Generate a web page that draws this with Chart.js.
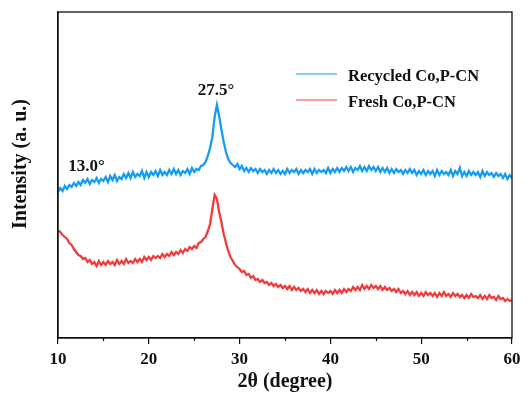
<!DOCTYPE html>
<html>
<head>
<meta charset="utf-8">
<script src="https://cdn.jsdelivr.net/npm/chart.js@4"></script>
<style>
  html, body { margin: 0; padding: 0; background: #fff; }
  #wrap { width: 531px; height: 394px; }
</style>
</head>
<body>
<div id="wrap"><canvas id="xrd" width="531" height="394"></canvas></div>
<script>
// 2θ sampling: 10° to 60°, every 0.25°
const thetaStart = 10;
const thetaStep = 0.25;

// intensities (a. u.), one group per degree
const recycled = [
  146,150,147,152, 149,153,151,155, 152,156,153,158, 155,159,154,158, 156,160,155,159,
  157,161,156,162, 158,163,157,161, 159,164,160,165, 160,166,161,164, 162,167,160,166,
  161,166,163,167, 162,168,163,166, 163,168,164,169, 164,168,163,167, 165,169,164,170,
  166,169,168,172, 173,176,182,190, 201,221,233,222, 208,196,186,179, 175,173,171,174,
  169,172,167,170, 166,170,167,169, 165,169,166,168, 164,168,165,169, 165,168,164,167,
  164,169,165,168, 166,169,164,168, 165,168,166,169, 164,169,165,168, 166,168,165,170,
  165,169,166,170, 166,170,167,171, 167,171,166,170, 168,172,167,171, 167,172,168,171,
  167,171,166,170, 166,170,165,169, 165,169,166,168, 164,168,165,169, 165,168,163,167,
  164,168,163,167, 164,167,162,168, 163,167,164,166, 163,168,162,167, 164,170,162,166,
  162,167,163,166, 163,166,161,167, 162,166,163,165, 161,165,162,164, 160,164,159,163,
  160
];
const fresh = [
  108,106,103,101, 99,95,93,89, 86,83,82,79, 80,76,78,74, 76,72,77,73,
  76,73,77,74, 76,73,78,74, 77,74,79,75, 77,75,79,76, 79,76,81,78,
  81,78,82,80, 82,80,84,81, 84,82,86,83, 86,84,88,85, 89,87,91,89,
  92,90,95,96, 99,101,107,114, 129,143,139,126, 116,104,95,87, 81,77,73,71,
  69,66,67,63, 64,60,62,58, 59,56,58,55, 56,53,55,52, 54,51,53,50,
  52,49,52,48, 51,48,50,47, 49,46,49,45, 48,45,48,44, 47,44,47,45,
  47,44,48,45, 48,45,49,46, 49,47,51,48, 51,48,53,49, 52,49,53,50,
  52,49,52,48, 51,48,50,47, 49,46,49,45, 47,44,47,43, 46,43,46,42,
  45,42,46,43, 45,42,45,41, 45,42,46,42, 44,41,45,42, 44,41,43,40,
  43,40,44,41, 42,40,43,39, 42,39,43,40, 41,38,42,39, 40,37,39,37,
  38
];

const majorTicks = [10, 20, 30, 40, 50, 60];
const minorTicks = [15, 25, 35, 45, 55];
const seriesNames = ['Recycled Co,P-CN', 'Fresh Co,P-CN'];
const seriesColors = ['#169cf0', '#f03c3c'];
const peakLabels = [
  { x: 27.5, y: 233, text: '27.5°', align: 'center' },
  { x: 13.0, y: 159, text: '13.0°', align: 'left' }
];

const FONT = '"Liberation Serif", "Times New Roman", serif';

function toPoints(vals) {
  return vals.map((v, i) => ({ x: thetaStart + i * thetaStep, y: v }));
}

// frame, minor ticks, y title, peak labels and legend
const decor = {
  id: 'decor',
  afterDraw(chart) {
    const { ctx, chartArea: a, scales } = chart;
    const xs = scales.x, ys = scales.y;
    ctx.save();
    ctx.strokeStyle = '#111';
    ctx.lineWidth = 1.3;
    ctx.strokeRect(a.left, a.top, a.right - a.left, a.bottom - a.top);

    // minor ticks
    ctx.lineWidth = 1.2;
    minorTicks.forEach(t => {
      const px = Math.round(xs.getPixelForValue(t)) + 0.5;
      ctx.beginPath();
      ctx.moveTo(px, a.bottom);
      ctx.lineTo(px, a.bottom + 3);
      ctx.stroke();
    });

    // y title (sits a bit above the middle of the frame)
    ctx.fillStyle = '#111';
    ctx.font = 'bold 20px ' + FONT;
    ctx.textAlign = 'center';
    ctx.textBaseline = 'middle';
    ctx.translate(21, 164);
    ctx.rotate(-Math.PI / 2);
    ctx.fillText('Intensity (a. u.)', 0, 0);
    ctx.setTransform(1, 0, 0, 1, 0, 0);

    // peak labels
    ctx.font = 'bold 17px ' + FONT;
    ctx.textBaseline = 'bottom';
    peakLabels.forEach(p => {
      ctx.textAlign = p.align;
      const px = xs.getPixelForValue(p.x);
      const py = ys.getPixelForValue(p.y);
      if (p.align === 'center') ctx.fillText(p.text, px - 1, py - 6);
      else ctx.fillText(p.text, px - 17, py - 4);
    });

    // legend
    ctx.font = 'bold 16.5px ' + FONT;
    ctx.textAlign = 'left';
    ctx.textBaseline = 'middle';
    seriesNames.forEach((name, i) => {
      const y = 74 + i * 26;
      ctx.strokeStyle = seriesColors[i];
      ctx.lineWidth = 1.2;
      ctx.beginPath();
      ctx.moveTo(296, y);
      ctx.lineTo(337, y);
      ctx.stroke();
      ctx.fillStyle = '#111';
      ctx.fillText(name, 348, y + 3);
    });
    ctx.restore();
  }
};

new Chart(document.getElementById('xrd'), {
  type: 'line',
  data: {
    datasets: [
      { label: seriesNames[0], data: toPoints(recycled), borderColor: seriesColors[0], borderWidth: 2.3, pointRadius: 0, tension: 0 },
      { label: seriesNames[1], data: toPoints(fresh), borderColor: seriesColors[1], borderWidth: 2.3, pointRadius: 0, tension: 0 }
    ]
  },
  options: {
    responsive: false,
    animation: false,
    events: [],
    layout: { padding: { top: 12, right: 19, left: 0, bottom: 0 } },
    plugins: { legend: { display: false }, tooltip: { enabled: false } },
    scales: {
      x: {
        type: 'linear',
        min: 10,
        max: 60,
        afterFit: s => { s.height = 56; },
        afterBuildTicks: s => { s.ticks = majorTicks.map(v => ({ value: v })); },
        grid: { drawOnChartArea: false, drawTicks: true, tickLength: 6, color: '#111', lineWidth: 1.2 },
        border: { display: true, color: '#111', width: 1.3 },
        ticks: { color: '#111', font: { family: FONT, weight: 'bold', size: 17 }, padding: 5, maxRotation: 0 },
        title: { display: true, text: '2θ (degree)', color: '#111', font: { family: FONT, weight: 'bold', size: 20 }, padding: { top: 0, bottom: 0 } }
      },
      y: {
        min: 0,
        max: 326,
        afterFit: s => { s.width = 58; },
        grid: { display: false },
        border: { display: true, color: '#111', width: 1.3 },
        ticks: { display: false },
        title: { display: false }
      }
    }
  },
  plugins: [decor]
});
</script>
</body>
</html>
